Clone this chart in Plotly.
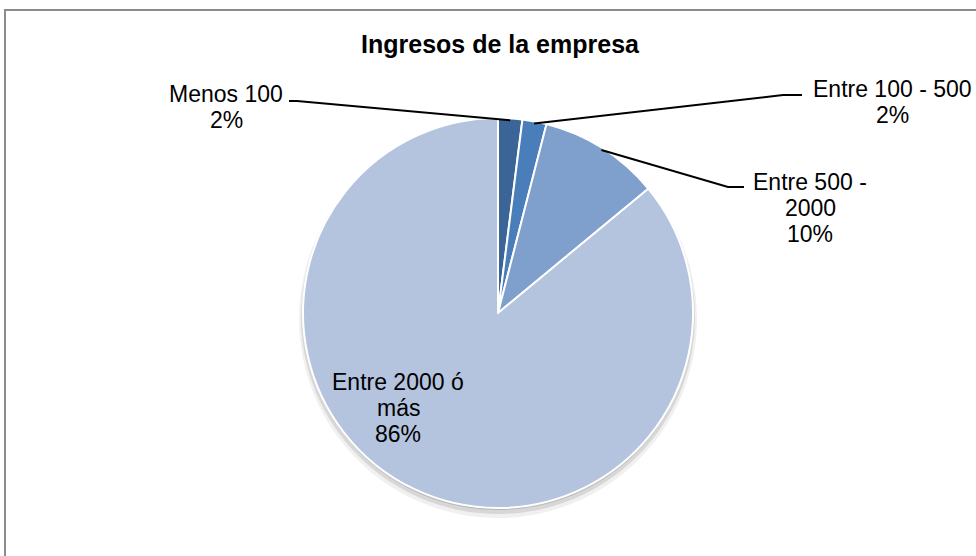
import math
import plotly.graph_objects as go

# ---- data ----
categories = ["Menos 100", "Entre 100 - 500", "Entre 500 - 2000", "Entre 2000 ó más"]
values = [2, 2, 10, 86]
label_lines = [["Menos 100", "2%"], ["Entre 100 - 500", "2%"], ["Entre 500 -", "2000", "10%"],
               ["Entre 2000 ó", "más", "86%"]]
colors = ["#3C6597", "#4A7EBB", "#7F9FCC", "#B4C3DE"]
title_text = "Ingresos de la empresa"

# ---- layout constants (pixels) ----
W, H = 976, 556
CX, CY, R = 498, 313, 195


def px(x):
    return x / W


def py(y):
    return 1 - y / H


fig = go.Figure()
fig.add_trace(go.Pie(
    labels=categories, values=values, sort=False, direction="clockwise", rotation=0,
    marker=dict(colors=colors, line=dict(color="white", width=2)),
    textinfo="none", hoverinfo="label+percent", showlegend=False,
    domain=dict(x=[px(CX - R), px(CX + R)], y=[py(CY + R), py(CY - R)]),
))

shapes = []
# frame
shapes.append(dict(type="rect", xref="paper", yref="paper", x0=px(5), y0=py(10), x1=px(1000), y1=py(600),
                   line=dict(color="#8c8c8c", width=2), layer="below"))
# soft shadow under pie
for off, op, grow in [(6, 0.06, 4), (4, 0.10, 2), (2, 0.14, 0)]:
    shapes.append(dict(type="circle", xref="paper", yref="paper",
                       x0=px(CX - R - grow), x1=px(CX + R + grow),
                       y0=py(CY + R + off + grow), y1=py(CY - R + off - grow),
                       fillcolor=f"rgba(0,0,0,{op})", line=dict(width=0), layer="below"))

# leader lines: start at slice mid-angle on the rim (from data), elbow + end at labels
total = sum(values)
cum = 0
mids = []
for v in values:
    mids.append((cum + v / 2) / total * 2 * math.pi)
    cum += v

leader_pts = {
    0: [(297, 101), (289, 101)],
    1: [(783, 95), (802, 95)],
    2: [(728, 187), (744, 187)],
}
for i, pts in leader_pts.items():
    a = mids[i]
    sx = CX + (R - 2) * math.sin(a)
    sy = CY - (R - 2) * math.cos(a)
    path_pts = [(sx, sy)] + pts
    path = "M " + " L ".join(f"{px(x)},{py(y)}" for x, y in path_pts)
    shapes.append(dict(type="path", xref="paper", yref="paper", path=path,
                       line=dict(color="black", width=2)))

font = dict(family="Arial, Liberation Sans, sans-serif", size=23, color="black")
label_pos = [(226, 107), (892, 102), (810, 208), (398, 408)]
LINE_H = 26
annotations = []
for (x, y), lines in zip(label_pos, label_lines):
    n = len(lines)
    for k, t in enumerate(lines):
        yy = y + (k - (n - 1) / 2) * LINE_H
        annotations.append(dict(x=px(x), y=py(yy), xref="paper", yref="paper", text=t, showarrow=False,
                                xanchor="center", yanchor="middle", font=font))

fig.update_layout(
    width=W, height=H, autosize=False,
    margin=dict(l=0, r=0, t=0, b=0),
    paper_bgcolor="white", plot_bgcolor="white",
    title=dict(text="<b>" + title_text + "</b>", x=px(500), xanchor="center", y=py(44), yanchor="middle",
               font=dict(family="Arial, Liberation Sans, sans-serif", size=25, color="black")),
    shapes=shapes, annotations=annotations,
)

fig.write_html("out.html", config={"displayModeBar": False},
               post_script="document.body.style.margin='0';document.body.style.overflow='hidden';")
